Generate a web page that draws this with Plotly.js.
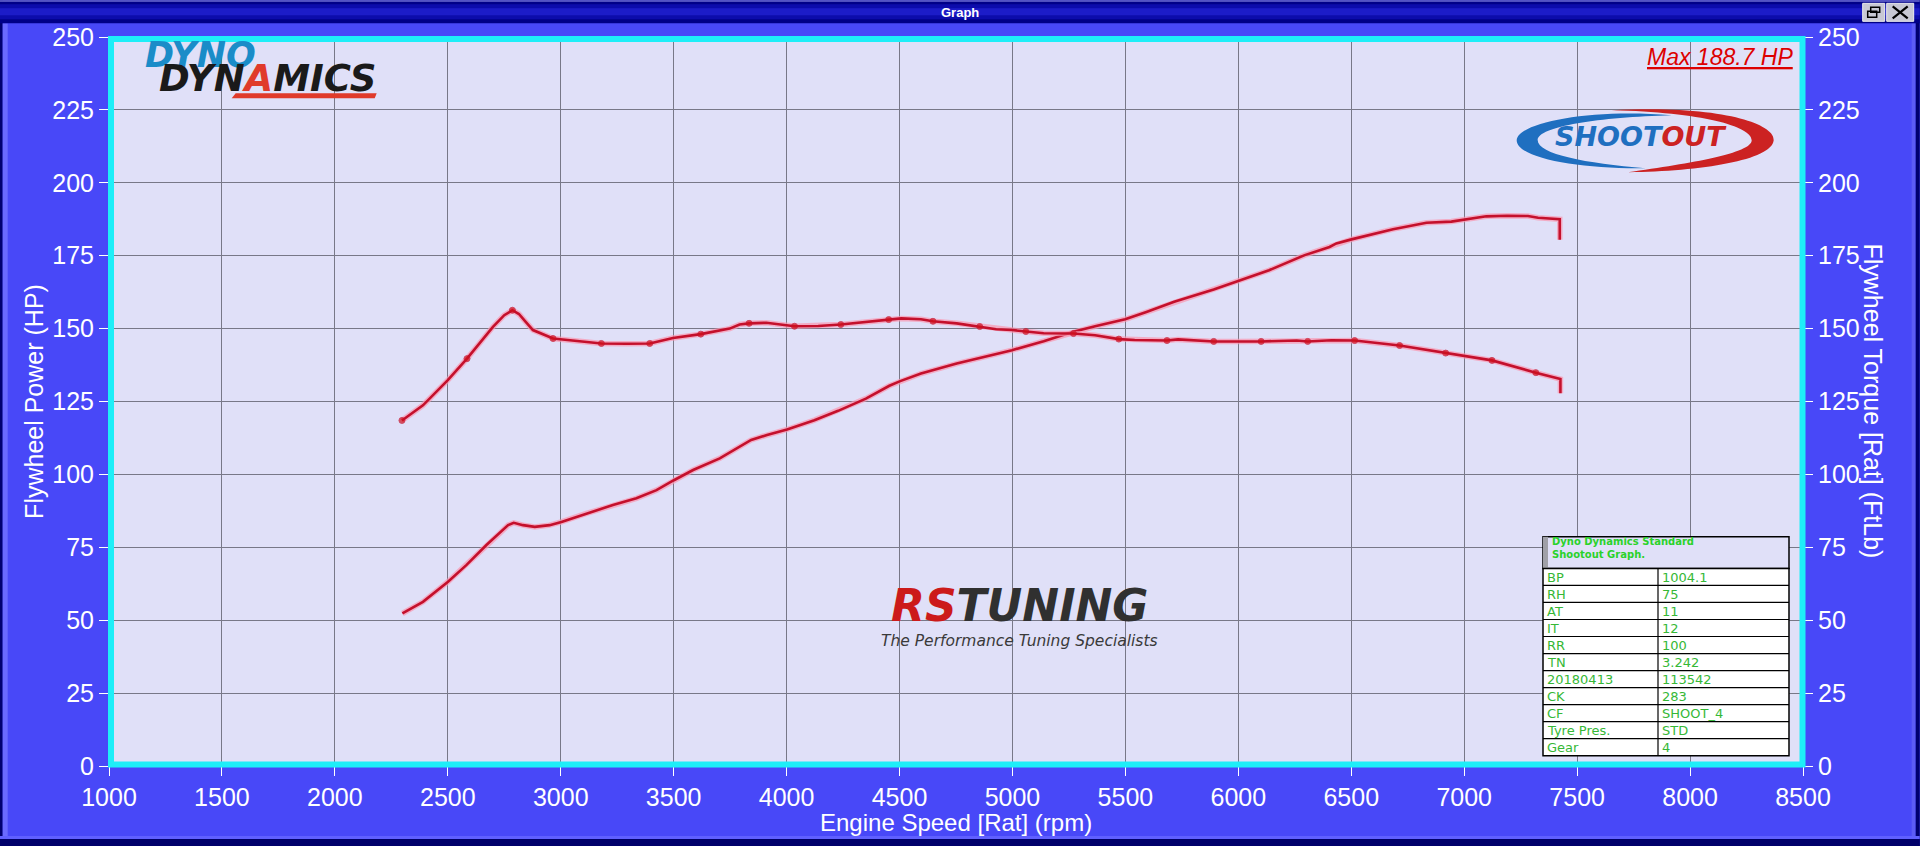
<!DOCTYPE html>
<html>
<head>
<meta charset="utf-8">
<script src="https://cdn.plot.ly/plotly-3.0.1.min.js"></script>
<style>html,body{margin:0;padding:0;background:#4848F8;}#chart{width:1920px;height:846px;}</style>
</head>
<body>
<div id="chart"></div>
<script>
// ---- Data ----
const powerRpm = [2299,2390,2501,2582,2671,2730,2767,2792,2833,2885,2951,3003,3114,3231,3335,3424,3501,3586,3704,3843,3913,4002,4123,4228,4351,4455,4503,4595,4753,4911,4998,5138,5270,5366,5499,5593,5716,5891,6000,6136,6294,6404,6434,6501,6685,6833,6943,7098,7190,7282,7327,7423,7423];
const powerHp  = [52.3,56.3,63.2,68.9,75.8,79.8,82.6,83.4,82.6,82.0,82.6,83.7,86.6,89.5,91.8,94.6,98.0,101.5,105.5,111.8,113.5,115.4,118.6,121.8,126.0,130.4,132.0,134.6,138.0,140.9,142.6,145.7,148.9,150.8,153.2,155.7,159.2,163.4,166.4,170.0,175.2,178.0,179.2,180.6,184.1,186.3,186.7,188.5,188.7,188.6,188.0,187.5,180.5];

const torqueRpm = [2297,2390,2500,2585,2700,2750,2786,2815,2845,2877,2966,3069,3180,3291,3394,3497,3620,3748,3792,3834,3910,4035,4140,4240,4351,4452,4508,4595,4648,4753,4855,4928,4998,5059,5138,5270,5366,5471,5541,5684,5733,5891,6000,6101,6258,6307,6412,6515,6714,6918,7123,7317,7426,7426];
const torqueFtLb = [118.5,123.7,132.3,139.7,150.6,154.6,156.3,155.0,152.3,149.5,146.6,145.7,144.9,144.8,144.9,146.8,148.1,150.0,151.4,151.8,152.0,150.8,150.9,151.4,152.3,153.1,153.5,153.2,152.5,151.8,150.7,149.8,149.5,149.0,148.4,148.3,147.7,146.4,146.1,145.9,146.3,145.6,145.6,145.6,145.9,145.6,146.0,145.9,144.2,141.6,139.1,134.9,132.7,127.8];
const torqueDot = [1,0,0,1,0,0,1,0,0,0,1,0,1,0,1,0,1,0,0,1,0,1,0,1,0,1,0,0,1,0,1,0,0,1,0,1,0,1,0,1,0,1,0,1,0,1,0,1,1,1,1,1,0,0];

const tableLabels = ['BP','RH','AT','IT','RR','TN','20180413','CK','CF','Tyre Pres.','Gear'];
const tableValues = ['1004.1','75','11','12','100','3.242','113542','283','SHOOT_4','STD','4'];
const tableHeader = ['Dyno Dynamics Standard','Shootout Graph.'];

const xTitle = 'Engine Speed [Rat] (rpm)';
const yTitle = 'Flywheel Power (HP)';
const y2Title = 'Flywheel Torque [Rat] (FtLb)';
const maxLabel = 'Max 188.7 HP';

// ---- pixel -> paper helpers for decorations ----
const PL = 109.3, PR = 1803.3, PT = 36.7, PB = 766;
const fx = p => (p - PL) / (PR - PL);
const fy = p => (PB - p) / (PB - PT);
const pt = (x, y) => fx(x).toFixed(5) + ',' + fy(y).toFixed(5);
function rect(x0, y0, x1, y1, fill, lineColor, lw) {
  return {type:'rect', xref:'paper', yref:'paper', x0:fx(x0), x1:fx(x1), y0:fy(y1), y1:fy(y0),
    fillcolor: fill, line:{color: lineColor || 'rgba(0,0,0,0)', width: lw || 0}, layer:'above'};
}
function seg(x0, y0, x1, y1, color, w) {
  return {type:'line', xref:'paper', yref:'paper', x0:fx(x0), x1:fx(x1), y0:fy(y0), y1:fy(y1),
    line:{color: color, width: w}, layer:'above'};
}
function path(d, fill) {
  return {type:'path', xref:'paper', yref:'paper', path:d, fillcolor:fill, line:{width:0, color:fill}, layer:'above'};
}
function ann(x, y, text, size, color, opts) {
  return Object.assign({xref:'paper', yref:'paper', x:fx(x), y:fy(y), text:text, showarrow:false,
    font:{size:size, color:color, family:'Liberation Sans, Arial, sans-serif'}, xanchor:'center', yanchor:'middle'}, opts || {});
}

const RED = '#c4102c';
const HALO = 'rgba(250,150,175,0.7)';

const traces = [
  {x: powerRpm, y: powerHp, type:'scatter', mode:'lines', line:{color:HALO, width:5.5}, hoverinfo:'skip', showlegend:false},
  {x: powerRpm, y: powerHp, type:'scatter', mode:'lines', name:'Power', line:{color:RED, width:2.6}, showlegend:false},
  {x: torqueRpm, y: torqueFtLb, yaxis:'y2', type:'scatter', mode:'lines', line:{color:HALO, width:5.5}, hoverinfo:'skip', showlegend:false},
  {x: torqueRpm, y: torqueFtLb, yaxis:'y2', type:'scatter', mode:'lines+markers', name:'Torque',
   line:{color:RED, width:2.6}, marker:{color:'#d0101c', size: torqueDot.map(d => d ? 6 : 0)}, showlegend:false}
];

// ---- decorations ----
const shapes = [];
// window frame
shapes.push(rect(0, 0, 3, 846, '#000070'));
shapes.push(rect(3, 23, 8, 838, '#6a6aff'));
shapes.push(rect(1912, 23, 1916, 838, '#5c5cf6'));
shapes.push(rect(1916, 0, 1920, 846, '#000070'));
shapes.push(rect(0, 836, 1920, 839, '#6060ff'));
shapes.push(rect(0, 839, 1920, 846, '#00006a'));
// title bar
shapes.push(rect(0, 0, 1920, 23, '#000088'));
shapes.push(rect(0, 0, 1920, 1.5, '#6a6ad0'));
shapes.push(rect(0, 4, 1920, 19, '#0c0cab'));
shapes.push(rect(0, 8, 1920, 15, '#1c1cc8'));
// buttons
shapes.push(rect(1863, 3, 1885, 21, '#c8c8d4', '#eeeeee', 1));
shapes.push(rect(1887, 3, 1914, 21, '#c8c8d4', '#eeeeee', 1));
shapes.push(rect(1868, 11, 1877, 17, 'rgba(0,0,0,0)', '#000000', 1.5));
shapes.push(rect(1871, 7, 1880, 12, 'rgba(0,0,0,0)', '#000000', 1.5));
shapes.push(seg(1893, 6, 1908, 18, '#000000', 2.2));
shapes.push(seg(1893, 18, 1908, 6, '#000000', 2.2));
// cyan plot border
shapes.push({type:'rect', xref:'paper', yref:'paper', x0:fx(PL+2), x1:fx(PR-0.5), y0:fy(PB-1.5), y1:fy(PT+2),
  line:{color:'#1eeef8', width:6}, fillcolor:'rgba(0,0,0,0)', layer:'above'});
// Dyno Dynamics red swoosh bar
shapes.push(path('M' + pt(236, 93) + ' L' + pt(377, 93) + ' L' + pt(375, 98) + ' L' + pt(232, 98) + ' Z', '#e03a2a'));
// Shootout ellipse crescents
shapes.push(path('M' + pt(1672, 115) + ' C' + pt(1592, 108) + ' ' + pt(1518, 122) + ' ' + pt(1517, 140) +
  ' C' + pt(1517, 158) + ' ' + pt(1580, 169) + ' ' + pt(1646, 168) +
  ' C' + pt(1586, 163) + ' ' + pt(1538, 154) + ' ' + pt(1538, 140) +
  ' C' + pt(1538, 126) + ' ' + pt(1600, 117) + ' ' + pt(1672, 115) + ' Z', '#1f6fc0'));
shapes.push(path('M' + pt(1612, 110) + ' C' + pt(1722, 104) + ' ' + pt(1776, 124) + ' ' + pt(1774, 140) +
  ' C' + pt(1772, 160) + ' ' + pt(1702, 171) + ' ' + pt(1628, 172) +
  ' C' + pt(1692, 163) + ' ' + pt(1752, 153) + ' ' + pt(1752, 140) +
  ' C' + pt(1752, 126) + ' ' + pt(1702, 112) + ' ' + pt(1612, 110) + ' Z', '#cc2222'));
// info table
const TL = 1543.3, TR = 1789.3, TD = 1658.3, TT = 536.7, TH = 568.3, RH = 17.04;
const TB = TH + RH * tableLabels.length;
shapes.push(rect(TL, TT, TR, TH, '#e0e0f8', '#000000', 1.5));
shapes.push(rect(TL, TT, TL + 5, TH, '#a0a0a8'));
shapes.push(rect(TL, TH, TR, TB, '#ffffff', '#000000', 1.5));
for (let i = 1; i < tableLabels.length; i++) shapes.push(seg(TL, TH + RH * i, TR, TH + RH * i, '#000000', 1.2));
shapes.push(seg(TD, TH, TD, TB, '#000000', 1.2));

const GREEN = '#36b836';
const annotations = [];
annotations.push(ann(960, 12, '<b>Graph</b>', 13, '#ffffff'));
// x axis title and right axis title (reads top to bottom)
annotations.push(ann(956, 823, xTitle, 24, '#ffffff'));
annotations.push(ann(1873, 401, y2Title, 25, '#ffffff', {textangle:90}));
// logos
annotations.push(ann(143, 55, '<b><i>DYNO</i></b>', 35, '#1a8cc8', {xanchor:'left', font:{size:35, color:'#1a8cc8', family:'DejaVu Sans'}}));
annotations.push(ann(157, 78, '<b><i>DYN<span style="color:#e03a2a">A</span>MICS</i></b>', 37, '#1a1a1a', {xanchor:'left', font:{size:37, color:'#1a1a1a', family:'DejaVu Sans'}}));
annotations.push(ann(1641, 136, '<b><i>SHOOT<span style="color:#cc2222">OUT</span></i></b>', 27, '#1f6fc0', {font:{size:27, color:'#1f6fc0', family:'DejaVu Sans'}}));
annotations.push(ann(1795, 57, '<i><u>' + maxLabel + '</u></i>', 23, '#dd0000', {xanchor:'right'}));
annotations.push(ann(1020, 605, '<b><i><span style="color:#cc1a1a">RS</span>TUNING</i></b>', 44, '#303030', {font:{size:44, color:'#303030', family:'DejaVu Sans'}}));
annotations.push(ann(1020, 641, '<i>The Performance Tuning Specialists</i>', 15.5, '#3a3a3a', {font:{size:15.5, color:'#3a3a3a', family:'DejaVu Sans'}}));
// table text
annotations.push(ann(1550, 548, '<b>' + tableHeader[0] + '<br>' + tableHeader[1] + '</b>', 10, '#2ad22a',
  {xanchor:'left', align:'left', font:{size:10, color:'#2ad22a', family:'DejaVu Sans'}}));
tableLabels.forEach((lab, i) => {
  const cy = TH + RH * i + RH / 2 + 0.5;
  annotations.push(ann(TL + 2, cy, lab, 13, GREEN, {xanchor:'left', font:{size:13, color:GREEN, family:'DejaVu Sans'}}));
  annotations.push(ann(TD + 2, cy, tableValues[i], 13, GREEN, {xanchor:'left', font:{size:13, color:GREEN, family:'DejaVu Sans'}}));
});

const tickFont = {size:25, color:'#ffffff', family:'Liberation Sans, Arial, sans-serif'};
const layout = {
  width:1920, height:846,
  margin:{l:PL, r:1920 - PR, t:PT, b:846 - PB, pad:0},
  paper_bgcolor:'#4848F8', plot_bgcolor:'#E0E0F8',
  showlegend:false,
  xaxis:{range:[1000, 8500], tickmode:'linear', tick0:1000, dtick:500, showgrid:true, gridcolor:'#787888', gridwidth:1,
    zeroline:false, showline:false, ticks:'outside', ticklen:9, tickcolor:'#ffffff', tickwidth:1, tickfont:tickFont},
  yaxis:{range:[0, 250], tickmode:'linear', tick0:0, dtick:25, showgrid:true, gridcolor:'#787888', gridwidth:1,
    zeroline:false, showline:false, ticks:'outside', ticklen:9, tickcolor:'#ffffff', tickwidth:1, tickfont:tickFont,
    title:{text:yTitle, font:{size:25, color:'#ffffff', family:'Liberation Sans, Arial, sans-serif'}, standoff:1}},
  yaxis2:{range:[0, 250], overlaying:'y', side:'right', tickmode:'linear', tick0:0, dtick:25, showgrid:false,
    zeroline:false, showline:false, ticks:'outside', ticklen:9, tickcolor:'#ffffff', tickwidth:1, tickfont:tickFont},
  shapes:shapes,
  annotations:annotations
};

Plotly.newPlot('chart', traces, layout, {displayModeBar:false, staticPlot:true});
</script>
</body>
</html>
